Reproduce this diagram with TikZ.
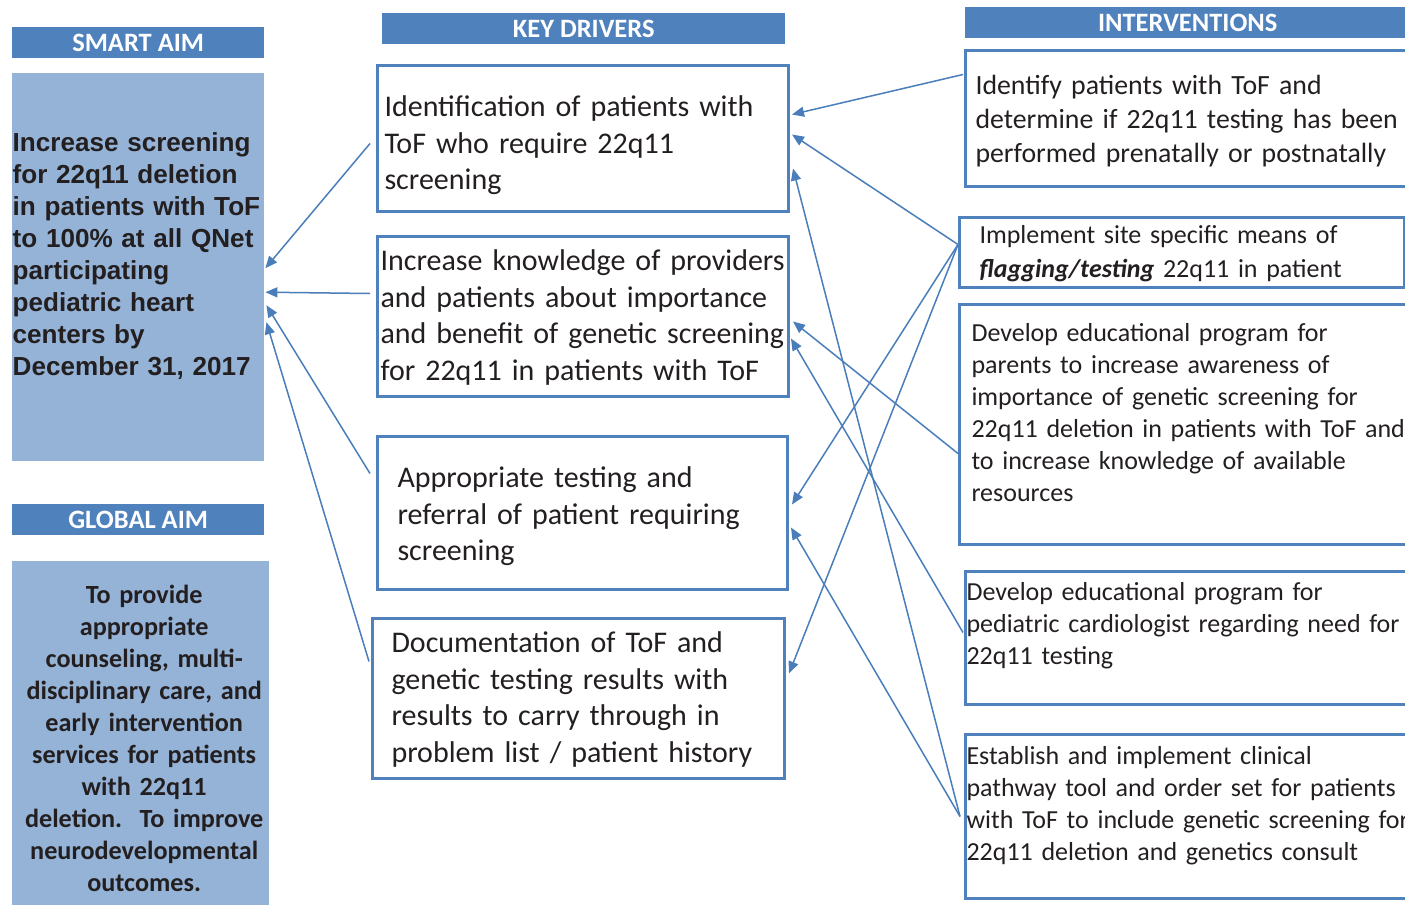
\documentclass[tikz,border=0pt]{standalone}
\usepackage{fontspec}
\setmainfont{Carlito}
\newfontfamily\arialfont{Liberation Sans}
\usetikzlibrary{arrows.meta}

\definecolor{hdrblue}{HTML}{4F81BD}
\definecolor{aimblue}{HTML}{95B3D7}
\definecolor{linkblue}{HTML}{4A7EBB}
\definecolor{textdark}{HTML}{231F20}

\begin{document}
\begin{tikzpicture}[
  x=1pt, y=-1pt,
  every node/.style={text=textdark},
  hdr/.style={
    fill=hdrblue,
    text=white,
    font=\fontsize{26.5}{30}\selectfont\bfseries,
    minimum height=31pt,
    inner sep=0pt,
    anchor=north west},
  aimbox/.style={
    fill=aimblue,
    inner ysep=0pt,
    anchor=north west},
  drvbox/.style={
    draw=hdrblue,
    line width=3pt,
    align=left,
    inner ysep=0pt,
    anchor=north west,
    font=\fontsize{30}{36.6}\selectfont},
  ivbox/.style={
    draw=hdrblue,
    line width=3pt,
    align=left,
    inner ysep=0pt,
    anchor=north west,
    font=\fontsize{26}{32}\selectfont},
  link/.style={
    draw=linkblue,
    line width=1.5pt,
    -{Triangle[length=12pt,width=10pt]}}
]
\useasboundingbox (0,0) rectangle (1405,905);

% headers
\node [hdr, minimum width=252pt] (hsmart) at (12,27) {SMART AIM};
\node [hdr, minimum width=252pt] (hglobal) at (12,504) {GLOBAL AIM};
\node [hdr, minimum width=403pt] (hdrivers) at (382,13) {KEY DRIVERS};
\node [hdr, minimum width=445pt] (hinterv) at (965,7) {INTERVENTIONS};

% aims
\node [
  aimbox,
  align=left,
  inner xsep=0.5pt,
  text width=251pt,
  text height=78pt,
  text depth=310pt,
  font=\arialfont\bfseries\fontsize{26.1}{32}\selectfont
] (smart) at (12,73) {Increase screening\\for 22q11 deletion\\in patients with ToF\\to 100\% at all QNet\\participating\\pediatric heart\\centers by\\December 31, 2017};
\node [
  aimbox,
  align=center,
  inner xsep=0pt,
  text width=257pt,
  text height=42pt,
  text depth=302pt,
  font=\bfseries\fontsize{26.2}{32}\selectfont
] (global) at (12,561) {\hspace*{7pt}To provide\\\hspace*{7pt}appropriate\\\hspace*{7pt}counseling, multi-\\\hspace*{7pt}disciplinary care, and\\\hspace*{7pt}early intervention\\\hspace*{7pt}services for patients\\\hspace*{7pt}with 22q11\\\hspace*{7pt}deletion.\ \ To improve\\\hspace*{7pt}neurodevelopmental\\\hspace*{7pt}outcomes.};

% key drivers
\node [
  drvbox,
  inner xsep=7pt,
  text width=397pt,
  text height=51pt,
  text depth=95pt
] (kd1) at (376,64) {Identification of patients with\\ToF who require 22q11\\screening};
\node [
  drvbox,
  inner xsep=3pt,
  text width=405pt,
  text height=34pt,
  text depth=126pt
] (kd2) at (376,235) {Increase knowledge of providers\\and patients about importance\\and benefit of genetic screening\\for 22q11 in patients with ToF};
\node [
  drvbox,
  inner xsep=20pt,
  text width=370pt,
  text height=51pt,
  text depth=102pt
] (kd3) at (376,435) {Appropriate testing and\\referral of patient requiring\\screening};
\node [
  drvbox,
  inner xsep=19pt,
  text width=374pt,
  text height=34pt,
  text depth=126pt
] (kd4) at (371,617) {Documentation of ToF and\\genetic testing results with\\results to carry through in\\problem list / patient history};

% interventions
\node [
  ivbox,
  inner xsep=10pt,
  text width=460pt,
  text height=44pt,
  text depth=92pt,
  font=\fontsize{27.8}{34}\selectfont
] (iv1) at (964,49) {Identify patients with ToF and\\determine if 22q11 testing has been\\performed prenatally or postnatally};
\node [
  ivbox,
  inner xsep=20pt,
  text width=405pt,
  text height=26pt,
  text depth=44pt,
  font=\fontsize{26}{34}\selectfont
] (iv2) at (958,216) {Implement site specific means of\\\textbf{\textit{flagging/testing}} 22q11 in patient};
\node [
  ivbox,
  inner xsep=12pt,
  text width=460pt,
  text height=37pt,
  text depth=203pt
] (iv3) at (958,303) {Develop educational program for\\parents to increase awareness of\\importance of genetic screening for\\22q11 deletion in patients with ToF and\\to increase knowledge of available\\resources};
\node [
  ivbox,
  inner xsep=1pt,
  text width=480pt,
  text height=29pt,
  text depth=104pt
] (iv4) at (964,570) {Develop educational program for\\pediatric cardiologist regarding need for\\22q11 testing};
\node [
  ivbox,
  inner xsep=1pt,
  text width=480pt,
  text height=30pt,
  text depth=134pt
] (iv5) at (964,733) {Establish and implement clinical\\pathway tool and order set for patients\\with ToF to include genetic screening for\\22q11 deletion and genetics consult};

% drivers to smart aim
\draw [link] ([xshift=-6pt,yshift=-5pt]kd1.west) -- ([xshift=1pt,yshift=-1pt]smart.east);
\draw [link] ([xshift=-6pt,yshift=23pt]kd2.west) -- ([xshift=1pt,yshift=-25pt]smart.east);
\draw [link] ([xshift=-6pt,yshift=39.5pt]kd3.west) -- ([xshift=2pt,yshift=-38pt]smart.east);
\draw [link] ([xshift=-2pt,yshift=37pt]kd4.west) -- ([xshift=2pt,yshift=-55pt]smart.east);

% interventions to drivers
\draw [link] ([xshift=-1pt,yshift=44pt]iv1.west) -- ([xshift=2pt,yshift=24pt]kd1.east);
\foreach \kd/\dx/\dy in {kd1/2/4, kd3/3/8.5, kd4/3/25}
  \draw [link] ([yshift=8pt]iv2.west) -- ([xshift=\dx pt,yshift=\dy pt]\kd.east);
\draw [link] ([yshift=-29pt]iv3.west) -- ([xshift=3pt,yshift=-5pt]kd2.east);
\draw [link] ([xshift=-1pt,yshift=5.5pt]iv4.west) -- ([xshift=1pt,yshift=-22pt]kd2.east);
\foreach \kd/\dx/\dy in {kd1/3/-30, kd3/2/-14.5}
  \draw [link] ([xshift=-4pt]iv5.west) -- ([xshift=\dx pt,yshift=\dy pt]\kd.east);

\end{tikzpicture}
\end{document}
